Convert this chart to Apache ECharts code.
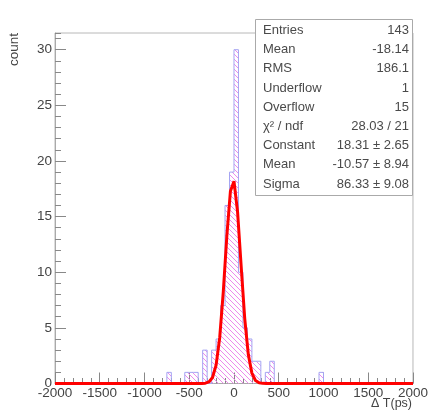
<!DOCTYPE html>
<html>
<head>
<meta charset="utf-8">
<script src="https://cdn.jsdelivr.net/npm/echarts@6/dist/echarts.min.js"></script>
<style>
  html, body { margin: 0; padding: 0; background: #ffffff; }
  #chart { width: 431px; height: 415px; }
</style>
</head>
<body>
<div id="chart"></div>
<script>
// ΔT histogram: 50 ps bins from -2000 to 2000 ps; only the filled bins are listed
const binWidth = 50;
const xRange = [-2000, 2000];
const binLow   = [-750, -550, -500, -450, -350, -250, -200, -150, -100, -50, 0, 50, 100, 150, 200, 250, 350, 400, 950];
const binCount = [1, 1, 1, 1, 3, 3, 4, 7, 16, 19, 30, 10, 5, 4, 2, 2, 1, 2, 1];

// Statistics box rows
const statNames  = ['Entries', 'Mean', 'RMS', 'Underflow', 'Overflow', 'χ² / ndf', 'Constant', 'Mean', 'Sigma'];
const statValues = ['143', '-18.14', '186.1', '1', '15', '28.03 / 21', '18.31 ± 2.65', '-10.57 ± 8.94', '86.33 ± 9.08'];

// Gaussian fit parameters (Constant, Mean, Sigma)
const fitConstant = 18.31;
const fitMean = -10.57;
const fitSigma = 86.33;
const fitPoints = 100;

const FONT = '"Liberation Sans", Arial, Helvetica, sans-serif';

// Full bin contents, then the step outline points (low edge of each bin + final edge)
const nBins = (xRange[1] - xRange[0]) / binWidth;
const counts = new Array(nBins).fill(0);
binLow.forEach((lo, i) => { counts[(lo - xRange[0]) / binWidth] = binCount[i]; });
const histData = counts.map((c, i) => [xRange[0] + i * binWidth, c]);
histData.push([xRange[1], counts[nBins - 1]]);

// Fit curve sampled across the full axis range
const fitData = [];
for (let i = 0; i <= fitPoints; i++) {
  const x = xRange[0] + i * (xRange[1] - xRange[0]) / fitPoints;
  const u = (x - fitMean) / fitSigma;
  fitData.push([x, fitConstant * Math.exp(-0.5 * u * u)]);
}

// Diagonal hatch tile for the histogram fill
function hatchTile() {
  const s = 5;
  const c = document.createElement('canvas');
  c.width = s; c.height = s;
  const g = c.getContext('2d');
  g.strokeStyle = '#ec8aec';
  g.lineWidth = 1;
  g.beginPath();
  g.moveTo(-1, -1); g.lineTo(s + 1, s + 1);
  g.moveTo(-1, s - 1); g.lineTo(1, s + 1);
  g.moveTo(s - 1, -1); g.lineTo(s + 1, 1);
  g.stroke();
  return c;
}

const labelStyle = { fontFamily: FONT, fontSize: 13.5, color: '#444' };
const tickColor = '#888';

const graphics = [
  {
    type: 'rect', z: 100,
    shape: { x: 255.5, y: 19.5, width: 157, height: 176 },
    style: { fill: '#ffffff', stroke: '#aaaaaa', lineWidth: 1 }
  },
  {
    type: 'text', z: 100, x: 14, y: 33, rotation: Math.PI / 2,
    style: { text: 'count', font: '13.5px ' + FONT, fill: '#444', align: 'right', verticalAlign: 'middle' }
  },
  {
    type: 'text', z: 100, x: 412, y: 403.5,
    style: { text: 'Δ T(ps)', font: '12.5px ' + FONT, fill: '#444', align: 'right', verticalAlign: 'middle' }
  }
];
statNames.forEach((name, i) => {
  const y = 30.5 + 19.2 * i;
  graphics.push({
    type: 'text', z: 101, x: 263, y: y,
    style: { text: name, font: '13px ' + FONT, fill: '#4a4a4a', align: 'left', verticalAlign: 'middle' }
  });
  graphics.push({
    type: 'text', z: 101, x: 409, y: y,
    style: { text: statValues[i], font: '13px ' + FONT, fill: '#4a4a4a', align: 'right', verticalAlign: 'middle' }
  });
});

const plainNumber = v => String(v);

const chart = echarts.init(document.getElementById('chart'), null, { renderer: 'canvas' });
chart.setOption({
  animation: false,
  backgroundColor: '#ffffff',
  grid: {
    left: 55, right: 18, top: 33, bottom: 31.5,
    show: true, borderColor: '#b8b8b8', borderWidth: 1, backgroundColor: 'transparent'
  },
  xAxis: {
    type: 'value',
    min: xRange[0], max: xRange[1], interval: 500,
    axisLine: { show: true, onZero: false, lineStyle: { color: '#aaaaaa', width: 1 } },
    axisTick: { show: true, inside: true, length: 11, lineStyle: { color: tickColor } },
    minorTick: { show: true, splitNumber: 5, length: 5.5, lineStyle: { color: tickColor } },
    splitLine: { show: false },
    minorSplitLine: { show: false },
    axisLabel: Object.assign({ margin: 3, formatter: plainNumber }, labelStyle)
  },
  yAxis: [
    {
      type: 'value',
      min: 0, max: 31.5, interval: 5,
      axisLine: { show: true, onZero: false, lineStyle: { color: '#aaaaaa', width: 1 } },
      axisTick: { show: true, inside: true, length: 11, lineStyle: { color: tickColor } },
      splitLine: { show: false },
      axisLabel: Object.assign({ margin: 3, showMaxLabel: false, formatter: plainNumber }, labelStyle)
    },
    {
      type: 'value', position: 'left', offset: 0,
      min: 0, max: 31.5, interval: 1,
      axisLine: { show: false, onZero: false },
      axisTick: { show: true, inside: true, length: 6, lineStyle: { color: tickColor } },
      splitLine: { show: false },
      axisLabel: { show: false }
    }
  ],
  series: [
    {
      name: 'ΔT',
      type: 'line',
      step: 'end',
      data: histData,
      symbol: 'none',
      z: 2,
      lineStyle: { color: '#a4a4f2', width: 1 },
      areaStyle: { color: { image: hatchTile(), repeat: 'repeat' }, opacity: 1, origin: 'start' }
    },
    {
      name: 'gaus',
      type: 'line',
      data: fitData,
      symbol: 'none',
      z: 3,
      lineStyle: { color: '#ff0000', width: 3 }
    }
  ],
  graphic: graphics
});
</script>
</body>
</html>
